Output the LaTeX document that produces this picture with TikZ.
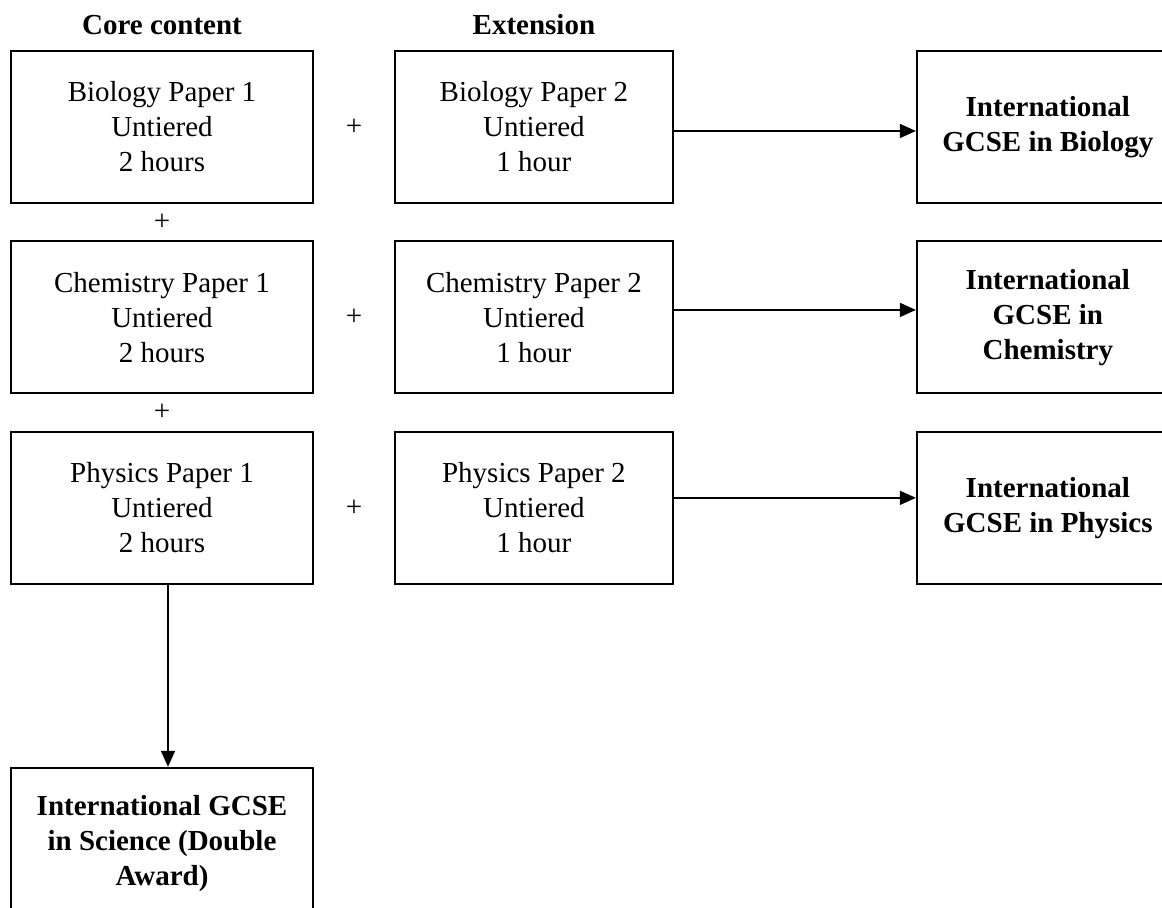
\documentclass[tikz,border=0pt]{standalone}
\usepackage{fontspec}
\setmainfont{Liberation Serif}
\usetikzlibrary{arrows.meta,positioning}

\tikzset{
  paper/.style={draw, line width=1.1pt, minimum width=6.04cm, minimum height=3.04cm,
    align=center, font=\fontsize{16.5pt}{19.9pt}\selectfont},
  extpaper/.style={paper, minimum width=5.56cm},
  award/.style={paper, minimum width=5.24cm, font=\fontsize{16.5pt}{19.9pt}\selectfont\bfseries},
  heading/.style={inner sep=0pt, font=\fontsize{16.5pt}{19.9pt}\selectfont\bfseries},
  plus/.style={font=\fontsize{16.5pt}{19.9pt}\selectfont},
  link/.style={line width=0.8pt, -{Triangle[length=0.32cm, width=0.28cm]}}
}

\begin{document}
\begin{tikzpicture}
\clip (-3.24,2.54) rectangle (20.0,-15.62);

% core content
\node[paper] (bio1) at (0,0) {Biology Paper 1\\Untiered\\2 hours};
\node[paper, below=0.73cm of bio1] (chem1) {Chemistry Paper 1\\Untiered\\2 hours};
\node[paper, below=0.73cm of chem1] (phys1) {Physics Paper 1\\Untiered\\2 hours};
\node[paper, below=3.64cm of phys1] (sci) {\bfseries International GCSE\\\bfseries in Science (Double\\\bfseries Award)};

% extension
\node[extpaper, right=1.6cm of bio1] (bio2) {Biology Paper 2\\Untiered\\1 hour};
\node[extpaper, right=1.6cm of chem1] (chem2) {Chemistry Paper 2\\Untiered\\1 hour};
\node[extpaper, right=1.6cm of phys1] (phys2) {Physics Paper 2\\Untiered\\1 hour};

% awards
\node[award, right=4.84cm of bio2] (bioaw) {International\\GCSE in Biology};
\node[award, right=4.84cm of chem2] (chemaw) {International\\GCSE in\\Chemistry};
\node[award, right=4.84cm of phys2] (physaw) {International\\GCSE in Physics};

\node[heading, above=0.3cm of bio1] (corehead) {Core content};
\node[heading, above=0.3cm of bio2] (exthead) {Extension};

% plus signs
\path (bio1.east) -- node[plus] (p1) {+} (bio2.west);
\path (chem1.east) -- node[plus] (p2) {+} (chem2.west);
\path (phys1.east) -- node[plus] (p3) {+} (phys2.west);
\path (bio1.south) -- node[plus] (p4) {+} (chem1.north);
\path (chem1.south) -- node[plus] (p5) {+} (phys1.north);

% arrows
\draw[link] ([yshift=-0.08cm]bio2.east) -- ([yshift=-0.08cm]bioaw.west);
\draw[link] ([yshift=0.15cm]chem2.east) -- ([yshift=0.15cm]chemaw.west);
\draw[link] ([yshift=0.2cm]phys2.east) -- ([yshift=0.2cm]physaw.west);
\draw[link] ([xshift=0.12cm]phys1.south) -- ([xshift=0.12cm]sci.north);
\end{tikzpicture}
\end{document}
